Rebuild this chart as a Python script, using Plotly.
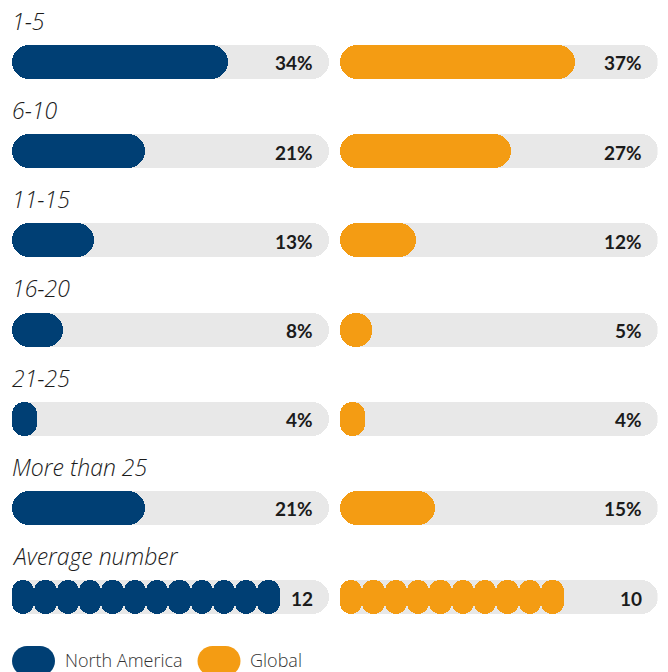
"""Horizontal pill bars: North America vs Global, by bucket, plus the average row."""
import plotly.graph_objects as go

ROWS = ["1-5", "6-10", "11-15", "16-20", "21-25", "More than 25", "Average number"]
NORTH_AMERICA = [34, 21, 13, 8, 4, 21]
GLOBAL = [37, 27, 12, 5, 4, 15]
AVG_NORTH_AMERICA = 12
AVG_GLOBAL = 10
SERIES = ["North America", "Global"]

NAVY = "#003f74"
ORANGE = "#f49c13"
TRACK = "#e8e8e8"
TEXT = "#1b1b1b"
FONT = "Lato, 'Open Sans', sans-serif"
LABEL_FONT = "'Open Sans', Lato, sans-serif"

SCALE_MAX = 50          # full track = 50%
AVG_STEP = 3.52         # width of one "unit" pill in the average row, axis units
ROW_PX = 89.2           # row pitch in pixels
BAR_PX = 34             # bar thickness in pixels
W, H = 668, 672


def pill(fig, starts, ends, ys, color, xaxis, radius):
    fig.add_bar(
        base=starts, x=[e - s for s, e in zip(starts, ends)], y=ys, orientation="h",
        width=BAR_PX / ROW_PX, xaxis=xaxis, yaxis="y",
        marker=dict(color=color, cornerradius=radius, line=dict(width=0)),
        hoverinfo="skip", showlegend=False,
    )


fig = go.Figure()
rows = list(range(len(ROWS)))
columns = [("x", NORTH_AMERICA, AVG_NORTH_AMERICA, NAVY),
           ("x2", GLOBAL, AVG_GLOBAL, ORANGE)]

for xaxis, values, avg, color in columns:
    pill(fig, [0] * len(rows), [SCALE_MAX] * len(rows), rows, TRACK, xaxis, "50%")
    pill(fig, [0] * len(values), values, rows[:len(values)], color, xaxis, "50%")
    n = int(avg)
    pill(fig, [k * AVG_STEP for k in range(n)], [(k + 1) * AVG_STEP for k in range(n)],
         [rows[-1]] * n, color, xaxis, 11)

annotations = []
for i, name in enumerate(ROWS):
    annotations.append(dict(
        text=name, x=0, y=i - 0.46, xref="x", yref="y", xanchor="left", yanchor="middle",
        xshift=-2, showarrow=False,
        font=dict(family=LABEL_FONT, size=23, color=TEXT, style="italic", weight=300),
    ))
for xaxis, values, avg, _ in columns:
    labels = [f"{v}%" for v in values] + [f"{avg}"]
    for i, lab in enumerate(labels):
        annotations.append(dict(
            text=lab, x=SCALE_MAX, y=i, xref=xaxis, yref="y", xanchor="right", yanchor="middle",
            xshift=-14, yshift=-1, showarrow=False,
            font=dict(family=FONT, size=19, color=TEXT, weight="bold"),
        ))

# legend: pill swatches + labels along the bottom
k = 0.5523
w2, h2, r = 21.5, 15, 15
s = w2 - r
swatch = (f"M {-s},{-h2} L {s},{-h2} C {s + k * r},{-h2} {w2},{-k * r} {w2},0 "
          f"C {w2},{k * r} {s + k * r},{h2} {s},{h2} L {-s},{h2} "
          f"C {-s - k * r},{h2} {-w2},{k * r} {-w2},0 C {-w2},{-k * r} {-s - k * r},{-h2} {-s},{-h2} Z")
shapes = []
legend_y = 1 - 660 / H
for name, color, sx, tx in zip(SERIES, [NAVY, ORANGE], [33.5, 219], [63, 248]):
    shapes.append(dict(type="path", xref="paper", yref="paper", xsizemode="pixel",
                       ysizemode="pixel", xanchor=sx / W, yanchor=1 - 661 / H, path=swatch,
                       fillcolor=color, line=dict(width=0)))
    annotations.append(dict(
        text=name, x=tx / W, y=legend_y, xref="paper", yref="paper", xanchor="left",
        yanchor="middle", showarrow=False,
        font=dict(family=LABEL_FONT, size=18, color="#333333", weight=300),
    ))

top = -62 / ROW_PX
bottom = 6 + (H - 597) / ROW_PX
fig.update_layout(
    width=W, height=H, barmode="overlay", bargap=0,
    paper_bgcolor="#ffffff", plot_bgcolor="#ffffff",
    margin=dict(l=0, r=0, t=0, b=0), showlegend=False,
    xaxis=dict(domain=[12 / W, 329 / W], range=[0, SCALE_MAX], visible=False, fixedrange=True, anchor="y"),
    xaxis2=dict(domain=[340 / W, 657.5 / W], range=[0, SCALE_MAX], visible=False, fixedrange=True, anchor="y"),
    yaxis=dict(domain=[0, 1], range=[bottom, top], visible=False, fixedrange=True),
    annotations=annotations, shapes=shapes,
)

fig.write_html("out.html", config=dict(displayModeBar=False),
               post_script="document.body.style.margin='0';")
